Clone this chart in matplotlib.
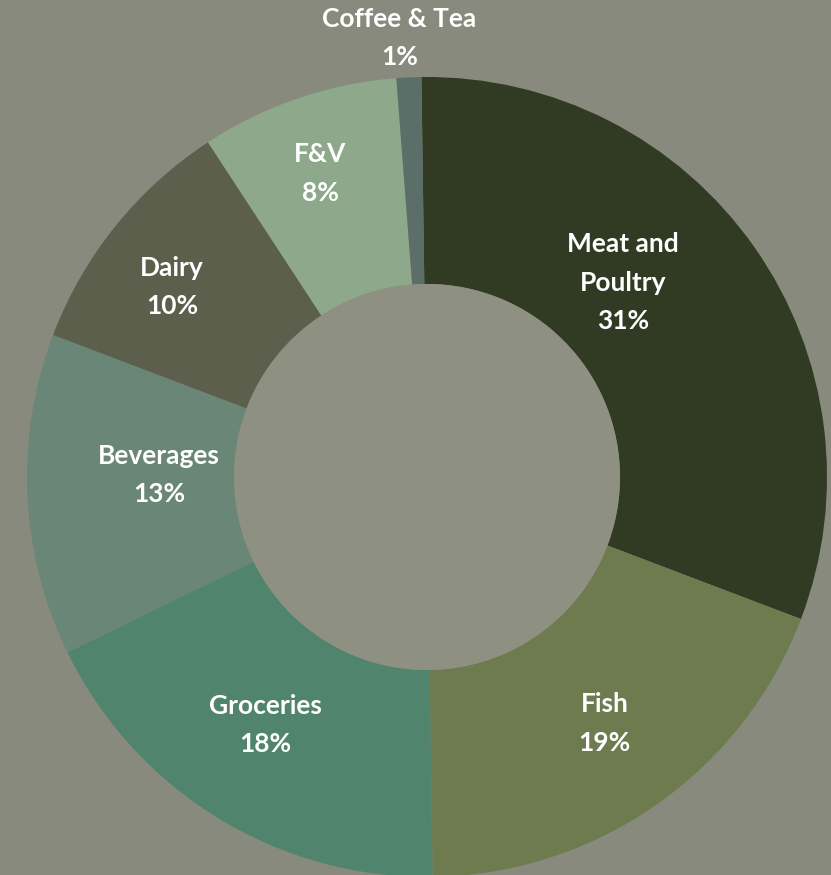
import numpy as np
import matplotlib
matplotlib.use("Agg")
import matplotlib.pyplot as plt
from matplotlib.patches import Circle

# Share of spend by category
categories = ["Meat and\nPoultry", "Fish", "Groceries", "Beverages", "Dairy", "F&V", "Coffee & Tea"]
shares = [31, 19, 18, 13, 10, 8, 1]
colors = ["#313a23", "#6e7b4f", "#50846d", "#6a8677", "#5b5f4b", "#8da88b", "#5b6e68"]

BG = "#878a7c"
HOLE = "#8e9082"

# Label placement: radius as fraction of outer radius, small angular nudge (deg)
label_r = [0.69, 0.76, 0.74, 0.67, 0.795, 0.805, 1.10]
label_da = [9.7, 0.8, -1.5, -3.0, 2.1, 0.6, 1.0]

W, H = 831, 875
fig = plt.figure(figsize=(W / 100, H / 100), dpi=100, facecolor=BG)
ax = fig.add_axes([0, 0, 1, 1])

cx, cy = 427, H - 477
r_out, r_in = 400, 193

wedges, _ = ax.pie(shares, colors=colors, startangle=90.8, counterclock=False,
                   radius=r_out, center=(cx, cy), frame=True,
                   wedgeprops=dict(width=r_out - r_in, linewidth=0))
ax.set_xlim(0, W)
ax.set_ylim(0, H)
ax.set_aspect("equal")
ax.axis("off")
ax.add_patch(Circle((cx, cy), r_in, facecolor=HOLE, edgecolor="none", zorder=3))

for w, name, v, rf, da in zip(wedges, categories, shares, label_r, label_da):
    mid = np.deg2rad((w.theta1 + w.theta2) / 2 + da)
    x = cx + rf * r_out * np.cos(mid)
    y = cy + rf * r_out * np.sin(mid)
    ax.text(x, y, f"{name}\n{v}%", ha="center", va="center", color="white",
            fontsize=19, fontweight="bold", family=["Lato", "DejaVu Sans"],
            linespacing=1.73, zorder=4)

fig.savefig("out.png", dpi=100, facecolor=BG)
